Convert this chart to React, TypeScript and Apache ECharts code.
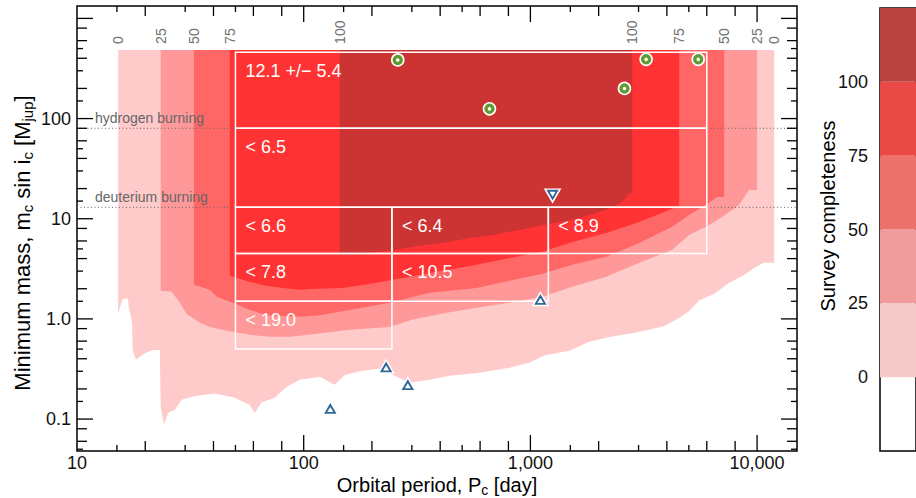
import React, { useEffect, useRef } from "react";
import * as echarts from "echarts";

const FONT = "'Liberation Sans', Arial, Helvetica, sans-serif";

// ---- axis ranges ----
const X_MIN = 10;
const X_MAX = 15000;
const Y_MIN = 0.048;
const Y_MAX = 1330;
const REGION_TOP_MASS = 485;

// ---- ticks ----
const xTickValues = [10, 100, 1000, 10000];
const xTickLabels = ["10", "100", "1,000", "10,000"];
const yTickValues = [0.1, 1, 10, 100];
const yTickLabels = ["0.1", "1.0", "10", "100"];
const minorMultipliers = [1.5, 2, 3, 4, 5, 6, 8];
const shortMultipliers = [1.5, 3, 5];

// ---- completeness levels ----
const completenessLevels = ["0", "25", "50", "75", "100"];
const levelColors = ["#ffcaca", "#ff9999", "#ff6666", "#ff3333", "#cc3333"];
const colorbarLevels = [0, 25, 50, 75, 100];
const colorbarColors = ["#f6cacb", "#f09c9c", "#ec716d", "#ea4a46", "#bb433f"];

// lower boundaries (period [day], min. mass [Mjup]) of each completeness region
const level0Periods = [15.2, 15.5, 15.9, 16.8, 16.9, 17.5, 17.6, 18.2, 18.9, 20.1, 21.6, 23.2, 23.4, 24.2, 25.2, 27.0, 29.0, 33.1, 40.5, 49.7, 57.8, 60.8, 65.3, 74.5, 84.2, 96, 118, 137, 152, 177, 216, 252, 293, 359, 440, 596, 808, 990, 1152, 1485, 1819, 2228, 2731, 3344, 3893, 4533, 5017, 5553, 6466, 7527, 8764, 9900, 10735, 11900];
const level0Masses = [1.12, 1.32, 1.59, 1.59, 1.32, 0.92, 0.49, 0.39, 0.42, 0.46, 0.49, 0.49, 0.132, 0.088, 0.115, 0.124, 0.156, 0.17, 0.18, 0.163, 0.138, 0.115, 0.147, 0.163, 0.21, 0.247, 0.265, 0.22, 0.276, 0.30, 0.32, 0.27, 0.23, 0.247, 0.27, 0.29, 0.325, 0.365, 0.43, 0.48, 0.59, 0.66, 0.71, 0.78, 0.85, 1.02, 1.2, 1.53, 1.78, 2.29, 2.75, 3.31, 3.63, 3.63];

const level25Periods = [23.4, 26.2, 28.4, 30.5, 32.4, 34.8, 38.5, 45.8, 57.8, 70.8, 86.8, 114, 159, 239, 300, 410, 578, 808, 1130, 1531, 2162, 3022, 4223, 5017, 5960, 7013, 8332, 9226, 10000];
const level25Masses = [1.91, 1.87, 1.45, 1.11, 1.02, 0.915, 0.83, 0.76, 0.693, 0.662, 0.662, 0.71, 0.778, 0.83, 0.98, 1.13, 1.29, 1.45, 1.66, 2.09, 2.63, 3.63, 4.89, 6.9, 8.3, 10.4, 13.8, 19.4, 19.4];

const level50Periods = [32.8, 38.5, 41.4, 48.7, 57.8, 68.7, 96, 118, 159, 239, 359, 578, 808, 1130, 1531, 2162, 3022, 4223, 5017, 5960, 6664, 7157];
const level50Masses = [2.19, 1.95, 1.66, 1.45, 1.23, 1.09, 1.05, 1.09, 1.23, 1.45, 1.82, 2.04, 2.4, 2.83, 3.47, 4.17, 5.74, 8.3, 10.9, 13.8, 16.5, 16.5];

const level75Periods = [47.2, 52.2, 57.8, 68.7, 80.8, 96, 114, 148.6, 209.8, 293, 410, 578, 808, 1130, 1531, 2162, 3022, 3893, 4533];
const level75Masses = [2.7, 2.51, 2.34, 2.14, 2.04, 1.95, 2.0, 2.04, 2.29, 2.63, 3.02, 3.47, 4.06, 4.67, 5.87, 7.2, 9.3, 11.7, 13.5];

const level100Periods = [144, 177, 239, 324, 410, 539, 680, 894, 1095, 1531, 1819, 2162, 2543, 2731, 2814];
const level100Masses = [4.36, 4.46, 4.78, 5.36, 5.74, 6.44, 6.9, 7.74, 8.5, 9.75, 10.9, 12.3, 14.7, 18.1, 18.1];

const levelPeriods = [level0Periods, level25Periods, level50Periods, level75Periods, level100Periods];
const levelMasses = [level0Masses, level25Masses, level50Masses, level75Masses, level100Masses];

// ---- occurrence-rate bins ----
const boxPeriodLo = [50, 50, 50, 245, 1200, 50, 245, 50];
const boxPeriodHi = [6000, 6000, 245, 1200, 6000, 245, 1200, 245];
const boxMassLo = [80, 13, 4.5, 4.5, 4.5, 1.5, 1.5, 0.5];
const boxMassHi = [460, 80, 13, 13, 13, 4.5, 4.5, 1.5];
const boxLabels = ["12.1 +/\u2212 5.4", "< 6.5", "< 6.6", "< 6.4", "< 8.9", "< 7.8", "< 10.5", "< 19.0"];

// ---- reference lines ----
const burnMasses = [80, 13];
const burnLabels = ["hydrogen burning", "deuterium burning"];

// ---- companions ----
const circlePeriods = [260, 660, 2600, 3240, 5500];
const circleMasses = [385, 125, 200, 390, 390];
const upTriPeriods = [131, 231, 288, 1107];
const upTriMasses = [0.129, 0.335, 0.223, 1.58];
const downTriPeriods = [1253];
const downTriMasses = [17.0];

const zip = (a: number[], b: number[]) => a.map((v, i) => [v, b[i]]);
const ANCHOR = [[100, 1]];

export default function App() {
  const ref = useRef<HTMLDivElement>(null);
  useEffect(() => {
    const chart = echarts.init(ref.current as HTMLDivElement, null, { renderer: "svg" });

    const regionsSeries = {
      type: "custom",
      xAxisIndex: 0,
      yAxisIndex: 0,
      z: 1,
      silent: true,
      data: ANCHOR,
      renderItem: (_p: any, api: any) => ({
        type: "group",
        children: levelPeriods.map((ps, i) => {
          const ms = levelMasses[i];
          const pts: number[][] = [api.coord([ps[0], REGION_TOP_MASS])];
          ps.forEach((p, k) => pts.push(api.coord([p, ms[k]])));
          pts.push(api.coord([ps[ps.length - 1], REGION_TOP_MASS]));
          return { type: "polygon", shape: { points: pts }, style: { fill: levelColors[i] } };
        }),
      }),
    };

    const burnSeries = {
      type: "custom",
      xAxisIndex: 0,
      yAxisIndex: 0,
      z: 2,
      silent: true,
      data: ANCHOR,
      renderItem: (_p: any, api: any) => {
        const children: any[] = [];
        burnMasses.forEach((m, i) => {
          const a = api.coord([X_MIN, m]);
          const b = api.coord([X_MAX, m]);
          children.push({
            type: "line",
            shape: { x1: a[0], y1: a[1], x2: b[0], y2: b[1] },
            style: { stroke: "#666", lineWidth: 1, lineDash: [1, 2.5] },
          });
          children.push({
            type: "text",
            x: a[0] + 18,
            y: a[1] - 10,
            style: { text: burnLabels[i], font: "14px " + FONT, fill: "#666", align: "left", verticalAlign: "middle", textAlign: "left", textVerticalAlign: "middle" },
          });
        });
        return { type: "group", children };
      },
    };

    const boxesSeries = {
      type: "custom",
      xAxisIndex: 0,
      yAxisIndex: 0,
      z: 3,
      silent: true,
      data: ANCHOR,
      renderItem: (_p: any, api: any) => {
        const children: any[] = [];
        boxLabels.forEach((lab, i) => {
          const tl = api.coord([boxPeriodLo[i], boxMassHi[i]]);
          const br = api.coord([boxPeriodHi[i], boxMassLo[i]]);
          children.push({
            type: "rect",
            shape: { x: tl[0], y: tl[1], width: br[0] - tl[0], height: br[1] - tl[1] },
            style: { fill: "none", stroke: "#fff", lineWidth: 1.5 },
          });
          children.push({
            type: "text",
            x: tl[0] + 10,
            y: tl[1] + 19,
            style: { text: lab, font: "18px " + FONT, fill: "#fff", align: "left", verticalAlign: "middle", textAlign: "left", textVerticalAlign: "middle" },
          });
        });
        return { type: "group", children };
      },
    };

    const edgeLabelSeries = {
      type: "custom",
      xAxisIndex: 0,
      yAxisIndex: 0,
      z: 3,
      silent: true,
      data: ANCHOR,
      renderItem: (_p: any, api: any) => {
        const children: any[] = [];
        levelPeriods.forEach((ps, i) => {
          [ps[0], ps[ps.length - 1]].forEach((p) => {
            const c = api.coord([p, REGION_TOP_MASS]);
            children.push({
              type: "text",
              x: c[0],
              y: c[1] - 6,
              rotation: Math.PI / 2,
              style: { text: completenessLevels[i], font: "14px " + FONT, fill: "#707070", align: "left", verticalAlign: "middle", textAlign: "left", textVerticalAlign: "middle" },
            });
          });
        });
        return { type: "group", children };
      },
    };

    const ticksSeries = {
      type: "custom",
      xAxisIndex: 0,
      yAxisIndex: 0,
      z: 6,
      silent: true,
      data: ANCHOR,
      renderItem: (_p: any, api: any) => {
        const lo = api.coord([X_MIN, Y_MIN]);
        const hi = api.coord([X_MAX, Y_MAX]);
        const children: any[] = [];
        const len = (m: number) => (m === 1 ? 16 : shortMultipliers.indexOf(m) >= 0 ? 6 : 10);
        const mults = [1].concat(minorMultipliers);
        const ln = (x1: number, y1: number, x2: number, y2: number) =>
          children.push({ type: "line", shape: { x1, y1, x2, y2 }, style: { stroke: "#000", lineWidth: 1.3 } });
        for (let e = Math.floor(Math.log10(X_MIN)); e <= Math.ceil(Math.log10(X_MAX)); e++) {
          mults.forEach((m) => {
            const v = m * Math.pow(10, e);
            if (v <= X_MIN || v >= X_MAX) return;
            const x = api.coord([v, Y_MIN])[0];
            ln(x, lo[1], x, lo[1] - len(m));
            ln(x, hi[1], x, hi[1] + len(m));
          });
        }
        for (let e = Math.floor(Math.log10(Y_MIN)); e <= Math.ceil(Math.log10(Y_MAX)); e++) {
          mults.forEach((m) => {
            const v = m * Math.pow(10, e);
            if (v <= Y_MIN || v >= Y_MAX) return;
            const y = api.coord([X_MIN, v])[1];
            ln(lo[0], y, lo[0] + len(m), y);
            ln(hi[0], y, hi[0] - len(m), y);
          });
        }
        xTickValues.forEach((v, i) => {
          const x = api.coord([v, Y_MIN])[0];
          children.push({
            type: "text",
            x,
            y: lo[1] + 12,
            style: { text: xTickLabels[i], font: "18px " + FONT, fill: "#111", align: "center", verticalAlign: "middle", textAlign: "center", textVerticalAlign: "middle" },
          });
        });
        yTickValues.forEach((v, i) => {
          const y = api.coord([X_MIN, v])[1];
          children.push({
            type: "text",
            x: lo[0] - 6,
            y,
            style: { text: yTickLabels[i], font: "18px " + FONT, fill: "#111", align: "right", verticalAlign: "middle", textAlign: "right", textVerticalAlign: "middle" },
          });
        });
        return { type: "group", children };
      },
    };

    const colorbarSeries = {
      type: "custom",
      xAxisIndex: 1,
      yAxisIndex: 1,
      z: 1,
      silent: true,
      data: [[0.5, 50]],
      renderItem: (_p: any, api: any) => ({
        type: "group",
        children: colorbarLevels.map((lv, i) => {
          const a = api.coord([0, lv + 25]);
          const b = api.coord([1, lv]);
          return { type: "rect", shape: { x: a[0], y: a[1], width: b[0] - a[0], height: b[1] - a[1] }, style: { fill: colorbarColors[i] } };
        }),
      }),
    };

    const richMain = { fontSize: 20, fontFamily: FONT, fill: "#000", lineHeight: 24, verticalAlign: "middle" };
    const richSub = { fontSize: 14, fontFamily: FONT, fill: "#000", lineHeight: 14, verticalAlign: "bottom" };
    const richMainY = { fontSize: 22, fontFamily: FONT, fill: "#000", lineHeight: 26, verticalAlign: "middle" };
    const richSubY = { fontSize: 15, fontFamily: FONT, fill: "#000", lineHeight: 15, verticalAlign: "bottom" };

    const option: any = {
      animation: false,
      textStyle: { fontFamily: FONT },
      grid: [
        { left: 77, top: 6, width: 720, height: 445, show: true, borderColor: "#000", borderWidth: 1.5, backgroundColor: "transparent" },
        { left: 880, top: 8, width: 60, height: 443, show: true, borderColor: "#000", borderWidth: 1.5, backgroundColor: "transparent" },
      ],
      xAxis: [
        { type: "log", logBase: 10, gridIndex: 0, min: X_MIN, max: X_MAX, axisLine: { show: false }, axisTick: { show: false }, axisLabel: { show: false }, splitLine: { show: false } },
        { type: "value", gridIndex: 1, min: 0, max: 1, show: false },
      ],
      yAxis: [
        { type: "log", logBase: 10, gridIndex: 0, min: Y_MIN, max: Y_MAX, axisLine: { show: false }, axisTick: { show: false }, axisLabel: { show: false }, splitLine: { show: false } },
        {
          type: "value",
          gridIndex: 1,
          min: -25,
          max: 125,
          interval: 25,
          axisLine: { show: false },
          axisTick: { show: false },
          splitLine: { show: false },
          axisLabel: {
            margin: 12,
            fontSize: 18,
            fontFamily: FONT,
            color: "#111",
            formatter: (v: number) => (v < 0 || v > 100 ? "" : String(v)),
          },
        },
      ],
      graphic: [
        {
          type: "text",
          x: 437,
          y: 485,
          style: {
            text: "{a|Orbital period, P}{s|c}{a| [day]}",
            rich: { a: richMain, s: richSub },
            align: "center",
            verticalAlign: "middle",
          },
        },
        {
          type: "text",
          x: 22,
          y: 243,
          rotation: Math.PI / 2,
          style: {
            text: "{a|Minimum mass, m}{s|c}{a| sin i}{s|c}{a| [M}{s|jup}{a|]}",
            rich: { a: richMainY, s: richSubY },
            align: "center",
            verticalAlign: "middle",
          },
        },
        {
          type: "text",
          x: 828,
          y: 216,
          rotation: Math.PI / 2,
          style: { text: "Survey completeness", font: "20px " + FONT, fill: "#000", align: "center", verticalAlign: "middle" },
        },
      ],
      series: [
        regionsSeries,
        burnSeries,
        boxesSeries,
        edgeLabelSeries,
        {
          type: "scatter",
          xAxisIndex: 0,
          yAxisIndex: 0,
          z: 5,
          silent: true,
          symbol: "circle",
          symbolSize: 12,
          data: zip(circlePeriods, circleMasses),
          itemStyle: { color: "#5f9b30", borderColor: "#fff", borderWidth: 1.6, opacity: 1 },
        },
        {
          type: "scatter",
          xAxisIndex: 0,
          yAxisIndex: 0,
          z: 5,
          silent: true,
          symbol: "circle",
          symbolSize: 3.5,
          data: zip(circlePeriods, circleMasses),
          itemStyle: { color: "#fff", opacity: 1 },
        },
        {
          type: "scatter",
          xAxisIndex: 0,
          yAxisIndex: 0,
          z: 5,
          silent: true,
          symbol: "triangle",
          symbolSize: [15, 13],
          data: zip(upTriPeriods, upTriMasses),
          itemStyle: { color: "#30659a", borderColor: "#fff", borderWidth: 1.5, opacity: 1 },
        },
        {
          type: "scatter",
          xAxisIndex: 0,
          yAxisIndex: 0,
          z: 5,
          silent: true,
          symbol: "triangle",
          symbolSize: [6, 5],
          symbolOffset: [0, 1.5],
          data: zip(upTriPeriods, upTriMasses),
          itemStyle: { color: "#fff", opacity: 1 },
        },
        {
          type: "scatter",
          xAxisIndex: 0,
          yAxisIndex: 0,
          z: 5,
          silent: true,
          symbol: "triangle",
          symbolRotate: 180,
          symbolSize: [15, 13],
          data: zip(downTriPeriods, downTriMasses),
          itemStyle: { color: "#30659a", borderColor: "#fff", borderWidth: 1.5, opacity: 1 },
        },
        {
          type: "scatter",
          xAxisIndex: 0,
          yAxisIndex: 0,
          z: 5,
          silent: true,
          symbol: "triangle",
          symbolRotate: 180,
          symbolSize: [6, 5],
          symbolOffset: [0, -1.5],
          data: zip(downTriPeriods, downTriMasses),
          itemStyle: { color: "#fff", opacity: 1 },
        },
        ticksSeries,
        colorbarSeries,
      ],
    };

    chart.setOption(option);
    return () => chart.dispose();
  }, []);

  return <div ref={ref} style={{ position: "absolute", left: 0, top: 0, width: 916, height: 498 }} />;
}
